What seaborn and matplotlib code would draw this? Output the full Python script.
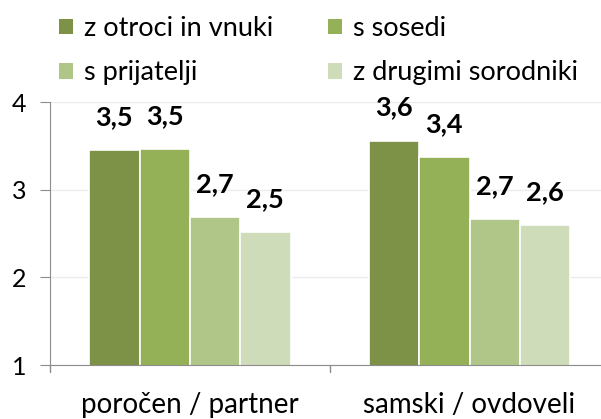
import pandas as pd
import matplotlib.pyplot as plt
import seaborn as sns
from matplotlib.patches import Patch

groups = ["poročen / partner", "samski / ovdoveli"]
series = ["z otroci in vnuki", "s sosedi", "s prijatelji", "z drugimi sorodniki"]
otroci = [3.45, 3.56]
sosedi = [3.46, 3.37]
prijatelji = [2.69, 2.66]
sorodniki = [2.52, 2.60]
colors = ["#7D9246", "#95B158", "#AFC688", "#CFDCB9"]

rows = []
for name, vals in zip(series, [otroci, sosedi, prijatelji, sorodniki]):
    for g, v in zip(groups, vals):
        rows.append({"skupina": g, "serija": name, "vrednost": v})
df = pd.DataFrame(rows)

sns.set_style("white")
plt.rcParams["font.family"] = ["Lato", "DejaVu Sans"]
plt.rcParams["text.color"] = "black"
plt.rcParams["xtick.color"] = "black"
plt.rcParams["ytick.color"] = "black"

fig = plt.figure(figsize=(6.01, 4.19), dpi=100)
ax = fig.add_axes([50 / 601, 1 - 365 / 419, 1 - 50 / 601, (365 - 102) / 419])

sns.barplot(data=df, x="skupina", y="vrednost", hue="serija", order=groups,
            hue_order=series, palette=colors, width=0.72, edgecolor="white",
            linewidth=1.2, saturation=1, ax=ax, legend=False)

ax.set_ylim(1, 4)
ax.set_xlim(-0.5, 1.47)
ax.set_yticks([1, 2, 3, 4])
ax.yaxis.grid(True, color="#EBEBEB", linewidth=1)
ax.set_axisbelow(True)
ax.set_xlabel("")
ax.set_ylabel("")
for s in ["top", "right"]:
    ax.spines[s].set_visible(False)
ax.spines["left"].set_color("#8C8C8C")
ax.spines["bottom"].set_color("#8C8C8C")
ax.tick_params(axis="y", left=True, length=7, color="#8C8C8C", labelcolor="black",
               labelsize=18, pad=10)
ax.tick_params(axis="x", bottom=False, labelcolor="black", labelsize=20, pad=16)

# category boundary ticks
for xb in [-0.5, 0.5]:
    ax.plot([xb, xb], [1, 0.92], color="#8C8C8C", linewidth=1, clip_on=False)

for cont in ax.containers:
    for bar in cont:
        h = bar.get_height()
        ax.annotate(f"{h:.1f}".replace(".", ","),
                    (bar.get_x() + bar.get_width() / 2, h),
                    xytext=(0, 21), textcoords="offset pixels",
                    ha="center", va="bottom", fontsize=19.5, fontweight="bold",
                    color="black")

order = [0, 2, 1, 3]
handles = [Patch(facecolor=colors[i], edgecolor="none") for i in order]
labels = [series[i] for i in order]
fig.legend(handles, labels, loc="upper left", bbox_to_anchor=(0.058, 1.02),
           ncol=2, frameon=False, fontsize=19.5, handlelength=0.5,
           handleheight=0.5, handletextpad=0.4, columnspacing=2.05,
           labelspacing=0.72)

fig.savefig("out.png", dpi=100)
